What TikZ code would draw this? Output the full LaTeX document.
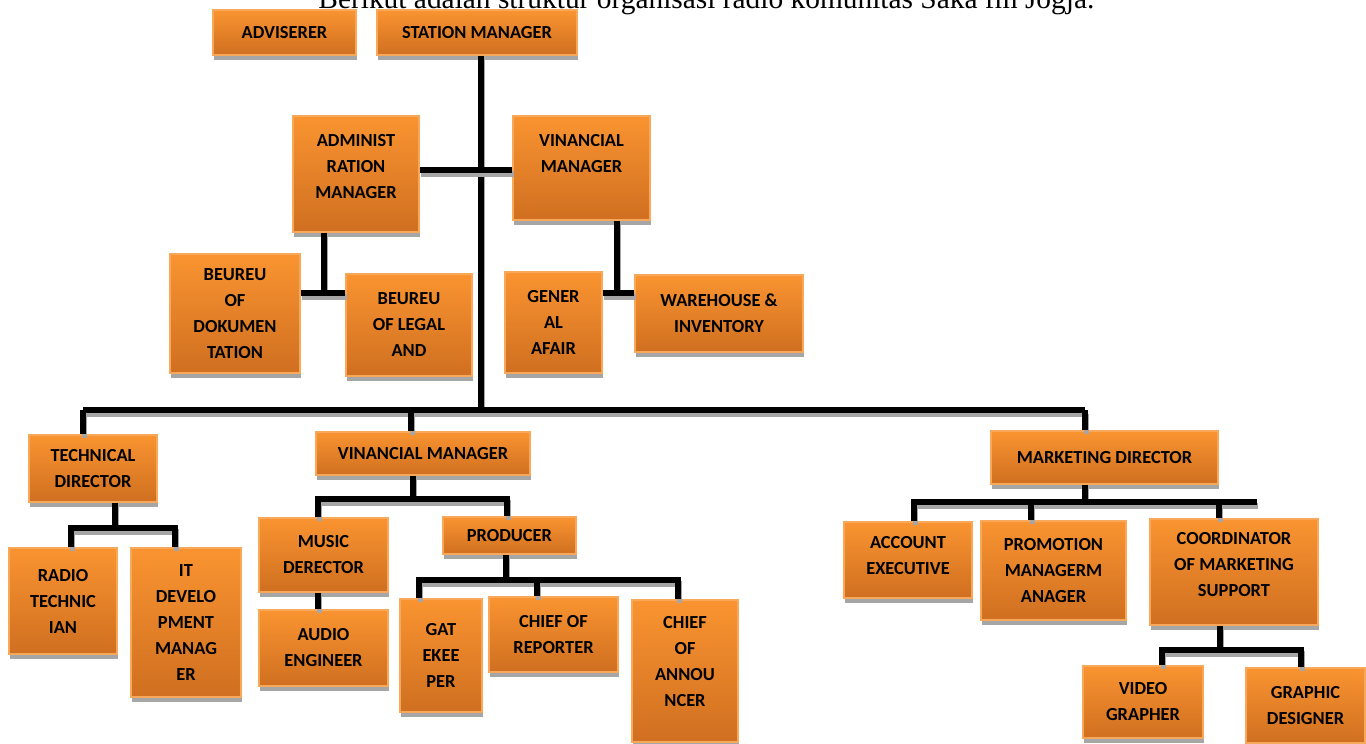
\documentclass[tikz,border=0pt]{standalone}
\usepackage{fontspec}
\setmainfont{Carlito}
\newfontfamily\titlefont{Liberation Serif}
\usetikzlibrary{shadows}

\definecolor{boxtop}{HTML}{FA9431}
\definecolor{boxbot}{HTML}{CF6F20}
\definecolor{boxline}{HTML}{F8A85A}

\begin{document}
\begin{tikzpicture}[x=0.5pt,y=-0.5pt]
    \tikzset{block/.style= {draw=boxline, line width=0.6pt, rectangle, align=center, inner sep=0pt,
                            top color=boxtop, bottom color=boxbot,
                            general shadow={fill=black!35, shadow xshift=0.6pt, shadow yshift=-2.6pt},
                            font=\bfseries\fontsize{9.2}{13}\selectfont},
             wh/.style 2 args={minimum width=#1*0.5pt, minimum height=#2*0.5pt},
             lift/.style={text depth=#1},
             link/.style={draw, line width=2.6pt,
                          preaction={draw=black!35, line width=2.6pt, transform canvas={xshift=0.6pt,yshift=-2pt}}},}

    \useasboundingbox (0,0) rectangle (1366,744);

    \node [anchor=base west, inner sep=0pt, font=\titlefont\fontsize{14.7}{17}\selectfont] (title) at (318,9)
          {Berikut adalah struktur organisasi radio komunitas Saka fm Jogja.};

    % junction points
    \coordinate (bus) at (481,410);
    \coordinate (mid) at (481,170);
    \coordinate (ja) at (324,293);
    \coordinate (jf) at (617,293);
    \coordinate (bl) at (83,410);
    \coordinate (bm) at (411,410);
    \coordinate (br) at (1085,410);
    \coordinate (jt) at (115,528);
    \coordinate (jt1) at (71,528);
    \coordinate (jt2) at (175,528);
    \coordinate (jv) at (413,499);
    \coordinate (jv1) at (318,499);
    \coordinate (jv2) at (507,499);
    \coordinate (jp) at (506,580);
    \coordinate (jp1) at (419,580);
    \coordinate (jp2) at (537,580);
    \coordinate (jp3) at (678,580);
    \coordinate (jm) at (1085,502);
    \coordinate (jm1) at (914,502);
    \coordinate (jm2) at (1031,502);
    \coordinate (jm3) at (1219,502);
    \coordinate (jme) at (1257,502);
    \coordinate (jc) at (1220,650);
    \coordinate (jc1) at (1162,650);
    \coordinate (jc2) at (1301,650);

    % top
    \node [block, wh={143}{45}] (adv) at (284.5,32.5) {ADVISERER};
    \node [block, wh={200}{45}] (sm) at (477,32.5) {STATION MANAGER};
    \node [block, wh={126}{116}, lift=8pt] (adm) at (356,174) {ADMINIST\\RATION\\MANAGER};
    \node [block, wh={137}{104}, lift=15pt] (fin) at (581.5,168) {VINANCIAL\\MANAGER};
    \node [block, wh={130}{119}] (doc) at (235,313.5) {BEUREU\\OF\\DOKUMEN\\TATION};
    \node [block, wh={126}{102}] (leg) at (409,325) {BEUREU\\OF LEGAL\\AND};
    \node [block, wh={97}{101}] (gen) at (553.5,322.5) {GENER\\AL\\AFAIR};
    \node [block, wh={168}{77}] (war) at (719,313.5) {WAREHOUSE \&\\INVENTORY};

    % technical
    \node [block, wh={128}{67}] (tec) at (93,468.5) {TECHNICAL\\DIRECTOR};
    \node [block, wh={108}{106}] (rad) at (63,601) {RADIO\\TECHNIC\\IAN};
    \node [block, wh={110}{149}] (itd) at (186,622.5) {IT\\DEVELO\\PMENT\\MANAG\\ER};

    % programme
    \node [block, wh={214}{43}] (fin2) at (423,453.5) {VINANCIAL MANAGER};
    \node [block, wh={129}{74}] (mus) at (323.5,555) {MUSIC\\DERECTOR};
    \node [block, wh={133}{37}] (pro) at (509.5,535.5) {PRODUCER};
    \node [block, wh={129}{76}] (aud) at (323.5,648) {AUDIO\\ENGINEER};
    \node [block, wh={82}{113}] (gat) at (441,655.5) {GAT\\EKEE\\PER};
    \node [block, wh={129}{75}] (rep) at (553.5,634.5) {CHIEF OF\\REPORTER};
    \node [block, wh={106}{142}, lift=10pt] (ann) at (685,671) {CHIEF\\OF\\ANNOU\\NCER};

    % marketing
    \node [block, wh={227}{53}] (mkt) at (1104.5,457.5) {MARKETING DIRECTOR};
    \node [block, wh={128}{76}, lift=5pt] (acc) at (908,560) {ACCOUNT\\EXECUTIVE};
    \node [block, wh={145}{99}] (pmo) at (1053.5,570.5) {PROMOTION\\MANAGERM\\ANAGER};
    \node [block, wh={168}{106}, lift=8pt] (cor) at (1234,572) {COORDINATOR\\OF MARKETING\\SUPPORT};
    \node [block, wh={120}{72}] (vid) at (1143,702) {VIDEO\\GRAPHER};
    \node [block, wh={119}{75}] (gra) at (1305.5,705.5) {GRAPHIC\\DESIGNER};

    % lines
    \path[link] (sm.south -| bus) -- (bus);
    \path[link] (adm.east |- mid) -- (fin.west |- mid);
    \path[link] (adm.south -| ja) -- (ja);
    \path[link] (doc.east |- ja) -- (leg.west |- ja);
    \path[link] (fin.south -| jf) -- (jf);
    \path[link] (gen.east |- jf) -- (war.west |- jf);

    \path[link] (bl) -- (br);
    \path[link] (bl) -- (bl |- tec.north);
    \path[link] (bm) -- (bm |- fin2.north);
    \path[link] (br) -- (br |- mkt.north);

    \path[link] (tec.south -| jt) -- (jt);
    \path[link] (jt1 |- rad.north) -- (jt1) -- (jt2) -- (jt2 |- itd.north);

    \path[link] (fin2.south -| jv) -- (jv);
    \path[link] (jv1 |- mus.north) -- (jv1) -- (jv2) -- (jv2 |- pro.north);
    \path[link] (mus.south -| jv1) -- (jv1 |- aud.north);
    \path[link] (pro.south -| jp) -- (jp);
    \path[link] (jp1 |- gat.north) -- (jp1) -- (jp3) -- (jp3 |- ann.north);
    \path[link] (jp2) -- (jp2 |- rep.north);

    \path[link] (mkt.south -| jm) -- (jm);
    \path[link] (jm1 |- acc.north) -- (jm1) -- (jme);
    \path[link] (jm2) -- (jm2 |- pmo.north);
    \path[link] (jm3) -- (jm3 |- cor.north);
    \path[link] (cor.south -| jc) -- (jc);
    \path[link] (jc1 |- vid.north) -- (jc1) -- (jc2) -- (jc2 |- gra.north);
\end{tikzpicture}
\end{document}
